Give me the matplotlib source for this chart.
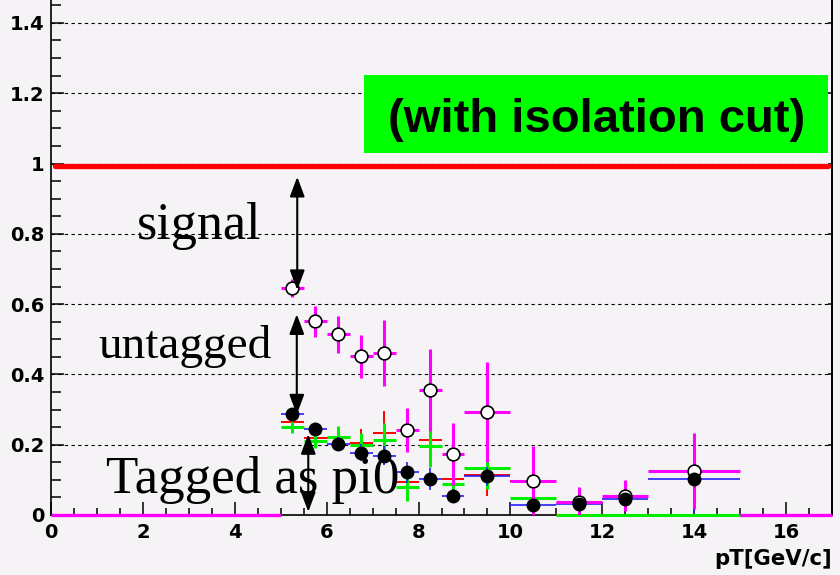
import numpy as np
import matplotlib
matplotlib.use("Agg")
import matplotlib.pyplot as plt
from matplotlib.patches import Rectangle
from matplotlib.ticker import MultipleLocator, FixedLocator

# pT bins (GeV/c)
bin_lo = [5.0, 5.5, 6.0, 6.5, 7.0, 7.5, 8.0, 8.5, 9.0, 10.0, 11.0, 12.0, 13.0]
bin_hi = [5.5, 6.0, 6.5, 7.0, 7.5, 8.0, 8.5, 9.0, 10.0, 11.0, 12.0, 13.0, 15.0]

# untagged fraction (magenta, open circles)
untagged = [0.646, 0.551, 0.514, 0.451, 0.460, 0.242, 0.356, 0.174, 0.294, 0.097, 0.038, 0.055, 0.126]
untagged_err = [0.025, 0.045, 0.052, 0.060, 0.094, 0.062, 0.116, 0.088, 0.142, 0.100, 0.043, 0.045, 0.108]

# tagged as pi0 (black points, blue errors)
tagged = [0.286, 0.245, 0.201, 0.177, 0.169, 0.121, 0.102, 0.054, 0.110, 0.029, 0.030, 0.046, 0.101]
tagged_err = [0.015, 0.017, 0.020, 0.024, 0.026, 0.030, 0.031, 0.020, 0.027, 0.020, 0.030, 0.036, 0.095]

# other tagging variants
red_vals = [0.264, 0.218, 0.220, 0.204, 0.232, 0.093, 0.213, 0.102, 0.114, 0.096, 0.0, 0.0, 0.0]
red_err = [0.020, 0.020, 0.030, 0.040, 0.065, 0.040, 0.050, 0.040, 0.060, 0.030, 0.0, 0.0, 0.0]
green_vals = [0.251, 0.210, 0.223, 0.199, 0.213, 0.081, 0.196, 0.087, 0.135, 0.048, 0.0, 0.0, 0.0]
green_err = [0.017, 0.020, 0.030, 0.033, 0.050, 0.040, 0.060, 0.040, 0.062, 0.030, 0.0, 0.0, 0.0]

# empty magenta bins drawn at zero
empty_lo = [0.0, 15.0]
empty_hi = [5.0, 17.0]

reference_level = 0.992

# annotation arrows: (x, y_top, y_bottom)
arrow_x = [5.36, 5.35, 5.60]
arrow_top = [0.962, 0.571, 0.230]
arrow_bot = [0.640, 0.286, 0.009]

labels = ["signal", "untagged", "Tagged as pi0"]
label_x = [1.88, 1.03, 1.20]
label_y = [0.785, 0.447, 0.063]
label_size = [37.5, 34, 38.2]

x_ticks = [0, 2, 4, 6, 8, 10, 12, 14, 16]
y_ticks = [0, 0.2, 0.4, 0.6, 0.8, 1.0, 1.2, 1.4]
y_ticklabels = ["0", "0.2", "0.4", "0.6", "0.8", "1", "1.2", "1.4"]

bg = "#f6f3f6"
W, H = 840, 575
fig = plt.figure(figsize=(W / 100, H / 100), dpi=100, facecolor=bg)
ax = fig.add_axes([51 / W, 60 / H, (832 - 51) / W, 515 / H])
ax.set_facecolor(bg)
ax.set_xlim(0, 17)
ax.set_ylim(0, 515 / 351.5)

lo = np.array(bin_lo)
hi = np.array(bin_hi)
xc = 0.5 * (lo + hi)
xw = 0.5 * (hi - lo)

# gridlines at major y ticks
for yv in y_ticks[1:]:
    ax.axhline(yv, color="black", lw=0.8, ls=(0, (3, 3)), zorder=1)

# reference line
ax.hlines(reference_level, 0.08, 16.92, color="red", lw=3.8, capstyle="round", zorder=2)

ax.errorbar(xc, red_vals, xerr=xw, yerr=red_err, fmt="none", ecolor="red", elinewidth=1.4,
            zorder=3, clip_on=False)
ax.errorbar(xc, green_vals, xerr=xw, yerr=green_err, fmt="none", ecolor="#00ee00", elinewidth=2.2,
            zorder=4, clip_on=False)
ax.errorbar(xc, tagged, xerr=xw, yerr=tagged_err, fmt="none", ecolor="#2222ff", elinewidth=1.2, zorder=5)
ax.errorbar(xc, untagged, xerr=xw, yerr=untagged_err, fmt="none", ecolor="magenta", elinewidth=2.2, zorder=6)
ax.hlines([0] * len(empty_lo), empty_lo, empty_hi, color="magenta", lw=2.4, zorder=6, clip_on=False)
ax.plot(xc, untagged, "o", ms=9.2, mfc="white", mec="black", mew=1.2, zorder=7, ls="none")
ax.plot(xc, tagged, "o", ms=9.0, mfc="black", mec="black", zorder=8, ls="none")

# green label box
ax.add_patch(Rectangle((6.82, 1.031), 16.92 - 6.82, 1.252 - 1.031, facecolor="#00ff00",
                       edgecolor="none", zorder=9))
ax.text(11.88, 1.0905, "(with isolation cut)", ha="center", va="baseline",
        family="Liberation Sans", weight="bold", fontsize=34, zorder=10)

for t, lx, ly, fs in zip(labels, label_x, label_y, label_size):
    ax.text(lx, ly, t, ha="left", va="baseline", family="Liberation Serif",
            fontsize=fs, zorder=10)

for axx, yt, yb in zip(arrow_x, arrow_top, arrow_bot):
    ax.annotate("", xy=(axx, yt), xytext=(axx, yb),
                arrowprops=dict(arrowstyle="<|-|>,head_length=1.2,head_width=0.45",
                                mutation_scale=10, lw=1.5, color="black",
                                shrinkA=0, shrinkB=0), zorder=11)

# axes styling
ax.spines["top"].set_visible(False)
for s in ["left", "bottom", "right"]:
    ax.spines[s].set_linewidth(1.2)
    ax.spines[s].set_zorder(2.5)

ax.xaxis.set_major_locator(FixedLocator(x_ticks))
ax.xaxis.set_minor_locator(MultipleLocator(0.5))
ax.yaxis.set_major_locator(FixedLocator(y_ticks))
ax.yaxis.set_minor_locator(MultipleLocator(0.05))
ax.set_xticklabels([str(v) for v in x_ticks])
ax.set_yticklabels(y_ticklabels)
ax.tick_params(axis="both", which="both", direction="in", width=1.1, color="black")
ax.tick_params(axis="y", which="major", length=9.5, pad=4.5)
ax.tick_params(axis="y", which="minor", length=7.2)
ax.tick_params(axis="x", which="major", length=9.5, pad=6)
ax.tick_params(axis="x", which="minor", length=5)
for lab in ax.get_xticklabels() + ax.get_yticklabels():
    lab.set_family("DejaVu Sans")
    lab.set_fontweight("bold")
    lab.set_fontsize(14)

sec = ax.secondary_yaxis("right")
sec.yaxis.set_major_locator(FixedLocator(y_ticks))
sec.tick_params(direction="in", length=3, width=1.1, labelright=False)
sec.spines["right"].set_linewidth(1.2)

fig.text(832 / W, 10 / H, "pT[GeV/c]", ha="right", va="baseline",
         family="DejaVu Sans", weight="bold", fontsize=15.3)

fig.savefig("out.png", dpi=100, facecolor=bg)
